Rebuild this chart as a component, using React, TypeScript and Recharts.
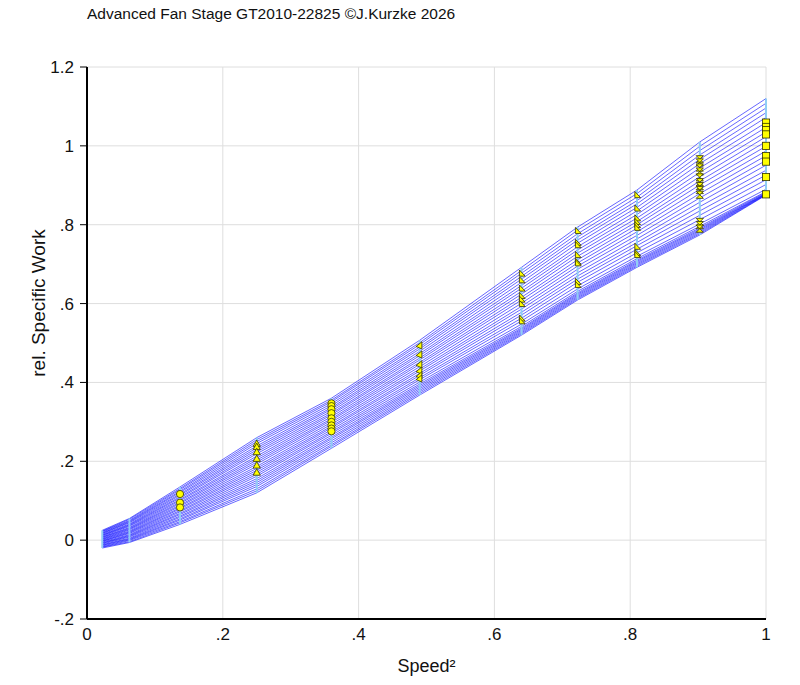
import React from 'react';
import { ComposedChart, Line, Scatter, XAxis, YAxis, CartesianGrid } from 'recharts';

const FONT = '"Liberation Sans", Arial, sans-serif';

// corrected speed squared of the speed lines
const SPEEDS = [0.0225, 0.0625, 0.137, 0.25, 0.36, 0.49, 0.64, 0.7225, 0.81, 0.9025, 1.0];

// rel. specific work of the beta lines on each speed line, choke side first
const W_0225 = [-0.020, -0.018, -0.017, -0.015, -0.013, -0.012, -0.010, -0.008, -0.007, -0.005, -0.003, -0.002, 0.000, 0.002, 0.003, 0.005, 0.007, 0.008, 0.010, 0.012, 0.013, 0.015, 0.017, 0.018, 0.020, 0.022, 0.023, 0.025];
const W_0625 = [-0.006, -0.004, -0.001, 0.001, 0.003, 0.005, 0.008, 0.010, 0.012, 0.014, 0.017, 0.019, 0.021, 0.023, 0.026, 0.028, 0.030, 0.032, 0.035, 0.037, 0.039, 0.041, 0.044, 0.046, 0.048, 0.050, 0.053, 0.055];
const W_137 = [0.040, 0.044, 0.047, 0.051, 0.054, 0.058, 0.061, 0.065, 0.068, 0.072, 0.075, 0.079, 0.082, 0.086, 0.089, 0.093, 0.096, 0.100, 0.103, 0.107, 0.110, 0.114, 0.117, 0.121, 0.124, 0.128, 0.131, 0.135];
const W_25 = [0.120, 0.125, 0.130, 0.136, 0.141, 0.146, 0.151, 0.156, 0.162, 0.167, 0.172, 0.177, 0.182, 0.187, 0.193, 0.198, 0.203, 0.208, 0.213, 0.219, 0.224, 0.229, 0.234, 0.239, 0.245, 0.250, 0.255, 0.260];
const W_36 = [0.233, 0.238, 0.242, 0.247, 0.252, 0.257, 0.261, 0.266, 0.271, 0.275, 0.280, 0.285, 0.289, 0.294, 0.299, 0.304, 0.308, 0.313, 0.318, 0.322, 0.327, 0.332, 0.336, 0.341, 0.346, 0.351, 0.355, 0.360];
const W_49 = [0.368, 0.372, 0.376, 0.380, 0.384, 0.388, 0.392, 0.396, 0.401, 0.407, 0.412, 0.418, 0.423, 0.429, 0.434, 0.440, 0.446, 0.451, 0.457, 0.462, 0.468, 0.473, 0.479, 0.485, 0.490, 0.496, 0.501, 0.507];
const W_64 = [0.520, 0.523, 0.526, 0.529, 0.532, 0.535, 0.538, 0.542, 0.548, 0.556, 0.563, 0.571, 0.578, 0.586, 0.593, 0.601, 0.609, 0.616, 0.624, 0.631, 0.639, 0.646, 0.654, 0.662, 0.669, 0.677, 0.684, 0.692];
const W_7225 = [0.609, 0.612, 0.615, 0.618, 0.621, 0.624, 0.627, 0.631, 0.637, 0.645, 0.654, 0.662, 0.670, 0.678, 0.687, 0.695, 0.703, 0.711, 0.720, 0.728, 0.736, 0.744, 0.753, 0.761, 0.769, 0.777, 0.786, 0.794];
const W_81 = [0.692, 0.695, 0.698, 0.701, 0.704, 0.707, 0.710, 0.714, 0.720, 0.729, 0.738, 0.747, 0.755, 0.764, 0.773, 0.782, 0.791, 0.800, 0.808, 0.817, 0.826, 0.835, 0.844, 0.853, 0.861, 0.870, 0.879, 0.888];
const W_9025 = [0.774, 0.777, 0.780, 0.783, 0.786, 0.789, 0.792, 0.796, 0.802, 0.813, 0.824, 0.835, 0.846, 0.857, 0.868, 0.879, 0.890, 0.901, 0.911, 0.922, 0.933, 0.944, 0.955, 0.966, 0.977, 0.988, 0.999, 1.010];
const W_100 = [0.875, 0.876, 0.877, 0.878, 0.879, 0.880, 0.882, 0.884, 0.890, 0.902, 0.914, 0.926, 0.938, 0.951, 0.963, 0.975, 0.987, 0.999, 1.011, 1.023, 1.035, 1.047, 1.059, 1.072, 1.084, 1.096, 1.108, 1.120];

const COLUMNS = [W_0225, W_0625, W_137, W_25, W_36, W_49, W_64, W_7225, W_81, W_9025, W_100];

// measured points (rig test), per speed line
const M_137 = [0.117, 0.095, 0.083];
const M_25 = [0.245, 0.237, 0.224, 0.207, 0.190, 0.172];
const M_36 = [0.347, 0.340, 0.332, 0.322, 0.309, 0.300, 0.291, 0.283, 0.276];
const M_49 = [0.494, 0.471, 0.446, 0.430, 0.418, 0.410];
const M_64 = [0.676, 0.659, 0.638, 0.619, 0.610, 0.599, 0.562, 0.555];
const M_7225 = [0.784, 0.754, 0.748, 0.723, 0.706, 0.702, 0.655, 0.647];
const M_81 = [0.875, 0.841, 0.816, 0.807, 0.799, 0.792, 0.744, 0.728, 0.723];
const M_9025 = [0.966, 0.958, 0.945, 0.935, 0.920, 0.908, 0.898, 0.888, 0.876, 0.807, 0.799, 0.790];
const M_100 = [1.059, 1.048, 1.040, 1.029, 1.000, 0.974, 0.960, 0.921, 0.877];

const X_TICKS = [0, 0.2, 0.4, 0.6, 0.8, 1];
const Y_TICKS = [-0.2, 0, 0.2, 0.4, 0.6, 0.8, 1, 1.2];

const MEASURED = [
  { speed: 0.137, values: M_137, kind: 'circle' },
  { speed: 0.25, values: M_25, kind: 'triUp' },
  { speed: 0.36, values: M_36, kind: 'circle' },
  { speed: 0.49, values: M_49, kind: 'triLeft' },
  { speed: 0.64, values: M_64, kind: 'triRight' },
  { speed: 0.7225, values: M_7225, kind: 'triRight' },
  { speed: 0.81, values: M_81, kind: 'triRight' },
  { speed: 0.9025, values: M_9025, kind: 'hourglass' },
  { speed: 1.0, values: M_100, kind: 'square' },
];

const rows = SPEEDS.map((s, k) => {
  const r: Record<string, number> = { x: s };
  COLUMNS[k].forEach((v, i) => { r[`b${i}`] = v; });
  return r;
});
const betaKeys = W_100.map((_, i) => `b${i}`);

const fmt = (v: number) => {
  if (v === 0) return '0';
  return String(Math.round(v * 10) / 10).replace('0.', '.');
};

const Marker = ({ cx, cy, kind }: { cx?: number; cy?: number; kind: string }) => {
  if (cx == null || cy == null) return null;
  const st = { fill: '#ffff00', stroke: '#333300', strokeWidth: 0.8 };
  const s = 3.6;
  switch (kind) {
    case 'circle':
      return <circle cx={cx} cy={cy} r={s} {...st} />;
    case 'triUp':
      return <path d={`M${cx},${cy - s} L${cx + s},${cy + s * 0.8} L${cx - s},${cy + s * 0.8} Z`} {...st} />;
    case 'triLeft':
      return <path d={`M${cx - s},${cy + s * 0.3} L${cx + s * 0.6},${cy - s} L${cx + s * 0.6},${cy + s} Z`} {...st} />;
    case 'triRight':
      return <path d={`M${cx - s * 0.6},${cy - s} L${cx + s},${cy + s * 0.7} L${cx - s * 0.6},${cy + s * 0.7} Z`} {...st} />;
    case 'hourglass':
      return <path d={`M${cx - s},${cy - s} L${cx + s},${cy - s} L${cx - s},${cy + s} L${cx + s},${cy + s} Z`} {...st} />;
    default:
      return <rect x={cx - s} y={cy - s} width={s * 2} height={s * 2} {...st} />;
  }
};

export default function App() {
  return (
    <div style={{ position: 'absolute', left: 0, top: 0, width: 800, height: 685, background: '#fff', fontFamily: FONT }}>
      <div style={{ position: 'absolute', left: 87, top: 5, fontSize: 15.5, color: '#111' }}>
        Advanced Fan Stage GT2010-22825 ©J.Kurzke 2026
      </div>
      <ComposedChart
        width={800}
        height={685}
        data={rows}
        margin={{ top: 67, right: 34, bottom: 26, left: 27 }}
      >
        <CartesianGrid stroke="#dedede" strokeWidth={1} />
        <XAxis
          dataKey="x"
          type="number"
          domain={[0, 1]}
          ticks={X_TICKS}
          tickFormatter={fmt}
          height={40}
          tickLine={false}
          tickSize={4}
          tickMargin={5}
          axisLine={{ stroke: '#000', strokeWidth: 2 }}
          tick={{ fontSize: 17, fill: '#111', fontFamily: FONT }}
          label={{
            content: ({ viewBox }: any) => (
              <text x={viewBox.x + viewBox.width / 2} y={672} textAnchor="middle" fontSize={18} fill="#111" fontFamily={FONT}>
                Speed²
              </text>
            ),
          }}
        />
        <YAxis
          type="number"
          domain={[-0.2, 1.2]}
          ticks={Y_TICKS}
          tickFormatter={fmt}
          width={60}
          allowDataOverflow
          tickSize={7}
          tickMargin={6}
          tickLine={{ stroke: '#000', strokeWidth: 1 }}
          axisLine={{ stroke: '#000', strokeWidth: 2 }}
          tick={{ fontSize: 17, fill: '#111', fontFamily: FONT }}
          label={{
            content: () => (
              <text x={38} y={303} transform="rotate(-90 38 303)" textAnchor="middle" dominantBaseline="central" fontSize={19} fill="#111" fontFamily={FONT}>
                rel. Specific Work
              </text>
            ),
          }}
        />
        {betaKeys.map((k) => (
          <Line
            key={k}
            dataKey={k}
            type="linear"
            stroke="#0000ff"
            strokeOpacity={0.6}
            strokeWidth={1}
            dot={false}
            activeDot={false}
            isAnimationActive={false}
          />
        ))}
        {SPEEDS.map((s, k) => (
          <Line
            key={`n${s}`}
            data={[
              { x: s, y: COLUMNS[k][0] },
              { x: s, y: COLUMNS[k][COLUMNS[k].length - 1] },
            ]}
            dataKey="y"
            type="linear"
            stroke="#90cdf4"
            strokeWidth={2}
            dot={false}
            activeDot={false}
            isAnimationActive={false}
          />
        ))}
        {MEASURED.map((m) => (
          <Scatter
            key={`m${m.speed}`}
            data={m.values.map((v) => ({ x: m.speed, y: v }))}
            dataKey="y"
            isAnimationActive={false}
            shape={(p: any) => <Marker cx={p.cx} cy={p.cy} kind={m.kind} />}
          />
        ))}
      </ComposedChart>
    </div>
  );
}
